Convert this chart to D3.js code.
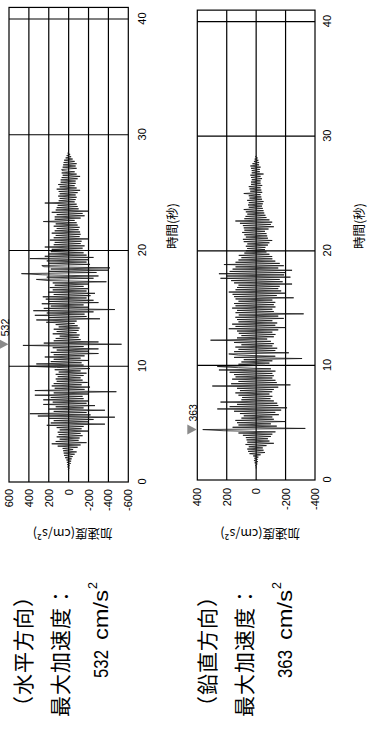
<!DOCTYPE html>
<html>
<head>
<meta charset="utf-8">
<script src="https://cdn.jsdelivr.net/npm/d3@7"></script>
<style>
  body { margin: 0; background: #fff; }
  svg { display: block; }
  .tick text { font-family: "Liberation Sans", Arial, sans-serif; font-size: 11px; fill: #000; }
  .cjk { font-family: "Noto Sans CJK JP", sans-serif; fill: #000; }
  .latin { font-family: "Liberation Sans", Arial, sans-serif; fill: #000; }
</style>
</head>
<body>
<svg id="chart" width="367" height="731"></svg>
<script>
// acceleration records (cm/s2), one value every 0.1 s from 1.0 s
const horizontalAcc = [
  0, 5, -8, 12, -10, 15, -20, 18, -25, 22,
  -30, 35, -40, 45, -60, 50, -80, 55, -45, 60,
  -90, 110, -120, 170, -180, 130, -100, 90, -110, 120,
  -140, 100, -120, 110, -200, 90, -130, 120, -150, 220,
  -365, 180, -200, 150, -250, 200, -465, 310, -220, 390,
  -180, 150, -365, 200, -150, 130, -265, 255, -180, 160,
  -200, 255, -150, 180, -140, 340, -200, 150, -480, 340,
  -160, 140, -215, 170, -130, 150, -190, 120, -140, 130,
  -120, 110, -150, 130, -180, 100, -120, 140, -215, 120,
  400, -150, 325, -130, 180, -195, 150, -120, 240, -160,
  150, -300, 180, -200, 120, -300, 160, -150, 460, -532,
  250, -300, 150, -120, 130, -100, 90, -110, 160, -80,
  120, -100, 150, -110, 100, -90, 130, -60, 225, -80,
  325, -315, 200, -180, 340, -160, 220, -250, 355, -465,
  250, -200, 180, -150, 270, -300, 200, -250, 230, -180,
  260, -220, 150, -265, 205, -180, 160, -200, 190, -150,
  140, -200, 160, -380, 200, 325, -250, 220, -300, 260,
  475, -280, 200, -400, 180, -415, 250, 270, -215, 200,
  -180, 220, -200, 390, -250, 240, -180, 200, -150, 180,
  -160, 170, -140, 240, -160, 150, -120, 140, -130, 190,
  -200, 150, -110, 130, -120, 170, -115, 140, -100, 120,
  -110, 150, -90, 130, -80, 255, -60, 140, -120, 140,
  -160, 120, -140, 170, -200, 130, -100, 120, -90, 110,
  -80, 240, -60, 100, -70, 90, -80, 105, -70, 90,
  -90, 100, -115, 120, -80, 90, -60, 105, -70, 80,
  -70, 80, -90, 70, -115, 60, -80, 70, -60, 65,
  70, -80, 60, -70, 55, -80, 50, -60, 45, -40,
  30, -25, 20, -15, 10, 0
];

const verticalAcc = [
  0, 0, 0, 5, -8, 10, -12, 15, -10, 12,
  -15, 20, -30, 45, -60, 55, -50, 60, -45, 50,
  -70, 72, -120, 60, -90, 65, -80, 70, -100, 90,
  -110, 120, -131, 219, 363, -334, 160, -140, 120, -100,
  130, -199, 141, -120, 100, -110, 84, -154, 110, -130,
  150, -170, 264, -210, 180, -150, 130, -143, 242, -120,
  100, -97, 95, -110, 120, -90, 141, -109, 110, -120,
  130, -150, 298, -233, 170, -140, 120, -131, 163, -110,
  140, -120, 150, -110, 180, -131, 253, -100, 120, 264,
  -60, 120, -90, 100, -110, 84, -312, 150, -130, 120,
  186, -222, 150, -130, 120, -143, 141, -110, 100, -120,
  150, -100, 310, -75, 130, -120, 100, -131, 118, -110,
  130, -150, 186, -199, 140, -130, 163, -143, 120, -110,
  130, -188, 141, -150, 118, -323, 140, -120, 130, -110,
  163, -131, 140, -120, 150, -130, 120, -110, 140, -255,
  150, -140, 160, -199, 186, -170, 140, -150, 130, -160,
  120, -244, 150, -180, 170, -160, 242, -233, 200, -190,
  253, -200, 180, -244, 160, -150, 140, -188, 219, -160,
  140, -130, 120, -110, 100, -109, 118, -90, 80, -70,
  70, -60, 61, -63, 70, -80, 60, -90, 84, -109,
  90, -80, 70, -75, 80, -70, 95, -60, 80, -84,
  84, -120, 90, -100, 110, -109, 141, -90, 80, -70,
  72, -63, 60, -55, 70, -50, 84, -45, 50, -40,
  55, -45, 50, -50, 61, -40, 45, -35, 50, -30,
  84, -41, 40, -35, 45, -30, 50, -41, 35, -30,
  35, -30, 30, -40, 35, -30, 39, -50, 30, -25,
  30, -25, 35, -30, 39, -20, 25, -20, 15, -15,
  10, -10, 5, 0
];

const startTime = 1.0;
const sampleStep = 0.1;
const timeTicks = [0, 10, 20, 30, 40];
const hAccTicks = [600, 400, 200, 0, -200, -400, -600];
const vAccTicks = [400, 200, 0, -200, -400];
const componentNames = ['（水平方向）', '（鉛直方向）'];
const peakValues = [532, 363];
const peakTimes = [11.9, 4.4];
const timeTitle = '時間(秒)';
const accTitle = '加速度(cm/s²)';
const peakTitle = '最大加速度：';

const PAGE_H = 731;

// the whole figure is drawn lying down, then turned a quarter
const svg = d3.select('#chart');
const root = svg.append('g').attr('transform', `translate(0,${PAGE_H}) rotate(-90)`);

const panels = [
  { acc: horizontalAcc, ticks: hAccTicks, max: 600, left: 249, pxPerSec: 11.575,
    top: 9, bottom: 128.3, timePad: 10, accPad: 7, textOffset: 0 },
  { acc: verticalAcc, ticks: vAccTicks, max: 400, left: 251, pxPerSec: 11.46,
    top: 197.3, bottom: 315, timePad: 8, accPad: 8, textOffset: 184 }
];

const fmt = (d) => String(d);

panels.forEach((p, i) => {
  const x = d3.scaleLinear().domain([0, 41]).range([p.left, p.left + 41 * p.pxPerSec]);
  const y = d3.scaleLinear().domain([-p.max, p.max]).range([p.bottom, p.top]);
  const g = root.append('g');

  // grid
  g.append('g')
    .selectAll('line')
    .data(p.ticks.slice(1, -1))
    .join('line')
    .attr('x1', x(0)).attr('x2', x(41))
    .attr('y1', (d) => y(d)).attr('y2', (d) => y(d))
    .attr('stroke', '#000').attr('stroke-width', 1.2);

  g.append('g')
    .selectAll('line')
    .data(timeTicks.slice(1))
    .join('line')
    .attr('x1', (d) => x(d)).attr('x2', (d) => x(d))
    .attr('y1', p.top).attr('y2', p.bottom)
    .attr('stroke', '#000').attr('stroke-width', 1.2);

  // waveform
  const series = p.acc.map((v, k) => ({ t: startTime + k * sampleStep, v }));
  g.append('path')
    .datum(series)
    .attr('fill', 'none')
    .attr('stroke', '#111')
    .attr('stroke-width', 0.8)
    .attr('d', d3.line().x((d) => x(d.t)).y((d) => y(d.v)));

  // frame
  g.append('rect')
    .attr('x', x(0)).attr('y', p.top)
    .attr('width', x(41) - x(0)).attr('height', p.bottom - p.top)
    .attr('fill', 'none').attr('stroke', '#000').attr('stroke-width', 1.2);

  // axes
  const xAxis = g.append('g')
    .attr('transform', `translate(0,${p.bottom})`)
    .call(d3.axisBottom(x).tickValues(timeTicks).tickSize(0).tickPadding(p.timePad));
  xAxis.select('.domain').remove();

  const yAxis = g.append('g')
    .attr('transform', `translate(${x(0)},0)`)
    .call(d3.axisLeft(y).tickValues(p.ticks).tickFormat(fmt).tickSize(0).tickPadding(p.accPad));
  yAxis.select('.domain').remove();

  // axis titles
  g.append('text')
    .attr('class', 'cjk')
    .attr('x', 505).attr('y', p.bottom + 49)
    .attr('text-anchor', 'middle')
    .attr('font-size', 12.5)
    .text(timeTitle);

  g.append('text')
    .attr('class', 'cjk')
    .attr('transform', `translate(202,${(p.top + p.bottom) / 2 + 4}) rotate(-90)`)
    .attr('text-anchor', 'middle')
    .attr('font-size', 12.5)
    .text(accTitle);

  // peak marker
  const px = x(peakTimes[i]);
  g.append('path')
    .attr('d', `M${px - 5},${p.top - 10}L${px + 5},${p.top - 10}L${px},${p.top - 0.5}Z`)
    .attr('fill', '#8a8a8a');
  g.append('text')
    .attr('class', 'latin')
    .attr('x', px + 8).attr('y', p.top - 0.5)
    .attr('font-size', 10.5)
    .text(peakValues[i]);

  // caption
  const cap = root.append('g').attr('transform', `translate(14,${p.textOffset})`);
  cap.append('text').attr('class', 'cjk')
    .attr('x', 0).attr('y', 31)
    .attr('font-size', 21).attr('letter-spacing', 1)
    .text(componentNames[i]);
  cap.append('text').attr('class', 'cjk')
    .attr('x', 0).attr('y', 68)
    .attr('font-size', 21).attr('letter-spacing', 1)
    .text(peakTitle);
  cap.append('text').attr('class', 'latin')
    .attr('x', 39).attr('y', 108)
    .attr('font-size', 20)
    .attr('textLength', 28).attr('lengthAdjust', 'spacingAndGlyphs')
    .text(peakValues[i]);
  cap.append('text').attr('class', 'latin')
    .attr('x', 77).attr('y', 108)
    .attr('font-size', 20)
    .attr('textLength', 50).attr('lengthAdjust', 'spacingAndGlyphs')
    .text('cm/s');
  cap.append('text').attr('class', 'latin')
    .attr('x', 128).attr('y', 97)
    .attr('font-size', 12.5)
    .text('2');
});
</script>
</body>
</html>
